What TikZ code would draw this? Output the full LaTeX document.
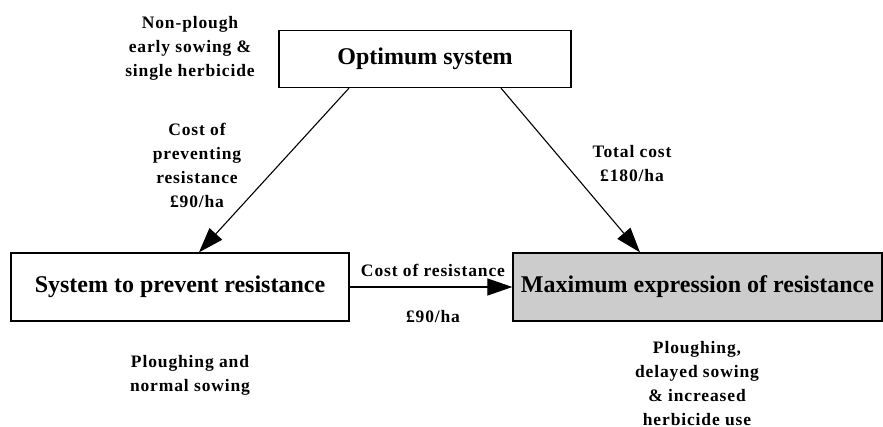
\documentclass[tikz,border=0pt]{standalone}
\usepackage{fontspec}
\setmainfont{Liberation Serif}
\newfontfamily\notefont[LetterSpace=5]{Liberation Serif}
\usetikzlibrary{arrows.meta,calc}
\begin{document}
\begin{tikzpicture}[x=1pt,y=1pt,
  box/.style={draw, line width=1.3pt, minimum height=57pt, inner sep=0pt,
    font=\fontsize{24}{28}\selectfont\bfseries},
  note/.style={align=center, inner sep=0pt,
    font=\notefont\fontsize{17.5}{24}\selectfont\bfseries},
  link/.style={line width=1.1pt, -{Triangle[length=25pt,width=17pt]}}]
\useasboundingbox (0,0) rectangle (883,-427);
% boxes
\node[box, minimum width=292pt] (opt) at (425,-59) {Optimum system};
\node[box, minimum width=338pt, minimum height=68pt] (sys) at (180,-287) {System to prevent resistance};
\node[box, minimum width=369pt, minimum height=68pt, fill={rgb,255:red,204;green,204;blue,204}] (max) at (697.5,-287) {Maximum expression of resistance};
% connectors
\draw[link] ($(opt.south)+(-76,0)$) -- ($(sys.north)+(19,0)$);
\draw[link] ($(opt.south)+(76,0)$) -- ($(max.north)+(-57.5,0)$);
\draw[link] (sys.east) -- (max.west);
% labels
\node[note] (n1) at (190,-48) {Non-plough\\early sowing \&\\single herbicide};
\node[note] (n2) at (197,-165) {Cost of\\preventing\\resistance\\£90/ha};
\node[note] (n3) at (632,-164) {Total cost\\£180/ha};
\node[note] (n4) at (433,-270) {Cost of resistance};
\node[note] (n5) at (433,-317) {£90/ha};
\node[note] (n6) at (190,-375) {Ploughing and\\normal sowing};
\node[note] (n7) at (697,-384) {Ploughing,\\delayed sowing\\\& increased\\herbicide use};
\end{tikzpicture}
\end{document}
